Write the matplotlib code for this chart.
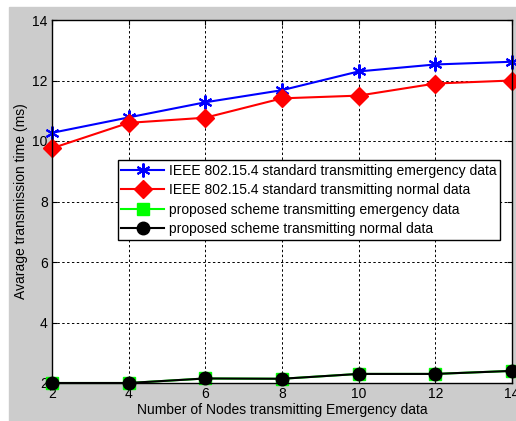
import matplotlib
matplotlib.use("Agg")
import matplotlib.pyplot as plt
from matplotlib.patches import Rectangle

plt.rcParams['font.family'] = ['Liberation Sans', 'DejaVu Sans']

nodes = [2, 4, 6, 8, 10, 12, 14]
std_emergency = [10.27, 10.78, 11.28, 11.68, 12.30, 12.53, 12.62]
std_normal = [9.76, 10.60, 10.77, 11.41, 11.50, 11.90, 12.00]
prop_emergency = [2.0, 2.0, 2.15, 2.14, 2.30, 2.30, 2.40]
prop_normal = [2.0, 2.0, 2.15, 2.14, 2.30, 2.30, 2.40]
labels = ["IEEE 802.15.4 standard transmitting emergency data",
          "IEEE 802.15.4 standard transmitting normal data",
          "proposed scheme transmitting emergency data",
          "proposed scheme transmitting normal data"]

fig = plt.figure(figsize=(5.16, 4.21), dpi=100)
fig.patch.set_facecolor("white")
# MATLAB-style grey figure area
fig.patches.append(Rectangle((9 / 516, 0), 1, (421 - 7) / 421,
                             transform=fig.transFigure, color="#cccccc", zorder=-1))

ax = fig.add_axes([52 / 516, 38 / 421, 460 / 516, 363 / 421])
ax.set_facecolor("white")

ax.plot(nodes, std_emergency, color="blue", lw=1.5, marker=(6, 2, 0),
        markersize=10, markeredgewidth=1.5, label=labels[0], clip_on=False)
ax.plot(nodes, std_normal, color="red", lw=1.5, marker="D",
        markersize=9, label=labels[1], clip_on=False)
ax.plot(nodes, prop_emergency, color="#00ff00", lw=1.5, marker="s",
        markersize=9, label=labels[2], clip_on=False)
ax.plot(nodes, prop_normal, color="black", lw=1.5, marker="o",
        markersize=9, label=labels[3], clip_on=False)

ax.set_xlim(2, 14)
ax.set_ylim(2, 14)
ax.set_xticks(nodes)
ax.set_yticks([2, 4, 6, 8, 10, 12, 14])
ax.grid(True, color="black", linestyle=(0, (2.5, 2.5)), linewidth=0.7)
ax.tick_params(direction="in", top=True, right=True, labelsize=10, pad=3)
for s in ax.spines.values():
    s.set_linewidth(1.0)

ax.set_xlabel("Number of Nodes transmitting Emergency data", fontsize=10, labelpad=1)
ax.set_ylabel("Avarage transmission time (ms)", fontsize=10, labelpad=3)

leg = ax.legend(loc="upper left", bbox_to_anchor=(0.143, 0.614), fontsize=10,
                fancybox=False, framealpha=1, edgecolor="black",
                handlelength=3.1, borderaxespad=0, borderpad=0.25,
                labelspacing=0.4, handletextpad=0.35)
leg.get_frame().set_linewidth(1.0)

fig.savefig("out.png", dpi=100, facecolor=fig.get_facecolor())
